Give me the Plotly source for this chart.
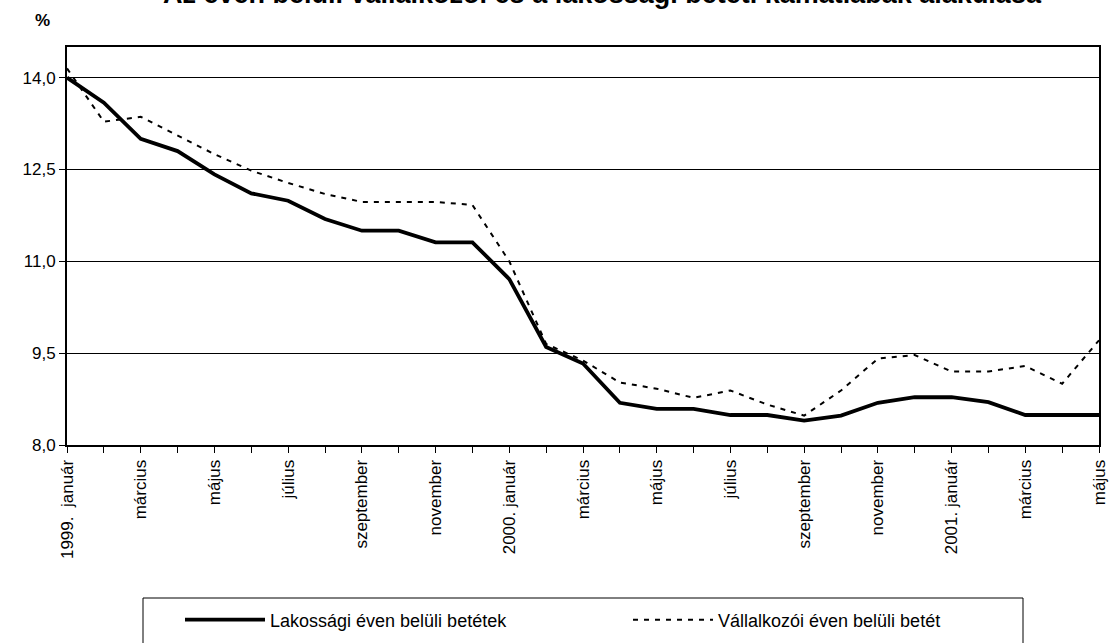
import plotly.graph_objects as go

# --- data -------------------------------------------------------------
months = ["1999-01", "1999-02", "1999-03", "1999-04", "1999-05", "1999-06",
          "1999-07", "1999-08", "1999-09", "1999-10", "1999-11", "1999-12",
          "2000-01", "2000-02", "2000-03", "2000-04", "2000-05", "2000-06",
          "2000-07", "2000-08", "2000-09", "2000-10", "2000-11", "2000-12",
          "2001-01", "2001-02", "2001-03", "2001-04", "2001-05"]

lakossagi = [14.00, 13.59, 13.00, 12.80, 12.42, 12.11, 11.99, 11.69, 11.50, 11.50,
             11.31, 11.31, 10.71, 9.60, 9.33, 8.69, 8.59, 8.59, 8.49, 8.49,
             8.40, 8.48, 8.69, 8.78, 8.78, 8.70, 8.49, 8.49, 8.49]

vallalkozoi = [14.15, 13.28, 13.36, 13.06, 12.75, 12.48, 12.28, 12.10, 11.97, 11.97,
               11.97, 11.92, 11.00, 9.65, 9.38, 9.02, 8.92, 8.77, 8.89, 8.66,
               8.48, 8.89, 9.41, 9.47, 9.20, 9.20, 9.29, 9.00, 9.71]

tick_labels = ["1999.  január", "március", "május", "július", "szeptember", "november",
               "2000. január", "március", "május", "július", "szeptember", "november",
               "2001. január", "március", "május"]

y_ticks = [8.0, 9.5, 11.0, 12.5, 14.0]

series_names = ["Lakossági éven belüli betétek", "Vállalkozói éven belüli betét"]
title_text = "Az éven belüli vállalkozói és a lakossági betéti kamatlábak alakulása"

# --- figure -----------------------------------------------------------
W, H = 1111, 643
L, R, T, B = 67, 12, 47, 198
pw, ph = W - L - R, H - T - B

def px_x(v):
    return (v - L) / pw

def px_y(v):
    return (H - B - v) / ph

xi = list(range(len(months)))
FONT = "Liberation Sans, Arial, sans-serif"

fig = go.Figure()
fig.add_trace(go.Scatter(x=xi, y=lakossagi, mode="lines", name=series_names[0],
                         line=dict(color="black", width=3.8), cliponaxis=False,
                         legend="legend"))
fig.add_trace(go.Scatter(x=xi, y=vallalkozoi, mode="lines", name=series_names[1],
                         line=dict(color="black", width=2, dash="5px,6px"), cliponaxis=False,
                         legend="legend2"))

leg_common = dict(orientation="h", xanchor="left", yanchor="middle", itemwidth=80,
                  font=dict(size=18), bgcolor="rgba(0,0,0,0)", borderwidth=0)

fig.update_layout(
    width=W, height=H,
    margin=dict(l=L, r=R, t=T, b=B, autoexpand=False),
    paper_bgcolor="white", plot_bgcolor="white",
    font=dict(family=FONT, size=17, color="black"),
    separators=", ",
    showlegend=True,
    legend=dict(x=px_x(180), y=px_y(620), **leg_common),
    legend2=dict(x=px_x(628), y=px_y(620), **leg_common),
    xaxis=dict(range=[0, len(months) - 1], tickmode="array",
               tickvals=xi[::2], ticktext=tick_labels, tickangle=-90,
               ticks="outside", ticklen=6, tickwidth=1, tickcolor="black",
               minor=dict(dtick=1, tick0=0, ticks="outside", ticklen=6, tickwidth=1, tickcolor="black"),
               showgrid=False, zeroline=False, automargin=False,
               showline=True, linecolor="black", linewidth=2, mirror=True,
               tickfont=dict(size=17)),
    yaxis=dict(range=[8.0, 14.5], tickmode="array", tickvals=y_ticks, tickformat=".1f",
               ticks="outside", ticklen=6, tickwidth=1, tickcolor="black",
               showgrid=True, gridcolor="black", gridwidth=1, zeroline=False,
               showline=True, linecolor="black", linewidth=2, mirror=True,
               automargin=False, tickfont=dict(size=17)),
)

# Title (partly cut off at the top edge, as in the reference)
fig.add_annotation(text="<b>" + title_text + "</b>", xref="paper", yref="paper",
                   x=px_x(602), y=px_y(-6), xanchor="center", yanchor="middle",
                   showarrow=False, font=dict(size=27, family=FONT, color="black"))
# Unit label
fig.add_annotation(text="<b>%</b>", xref="paper", yref="paper",
                   x=px_x(42), y=px_y(20), xanchor="center", yanchor="middle",
                   showarrow=False, font=dict(size=17, family=FONT, color="black"))
# Legend frame
fig.add_shape(type="rect", xref="paper", yref="paper",
              x0=px_x(143), x1=px_x(1023), y0=px_y(598), y1=px_y(680),
              line=dict(color="black", width=1), fillcolor="rgba(0,0,0,0)", layer="below")

fig.write_html("out.html", config={"displayModeBar": False},
               post_script="document.body.style.margin='0';")
